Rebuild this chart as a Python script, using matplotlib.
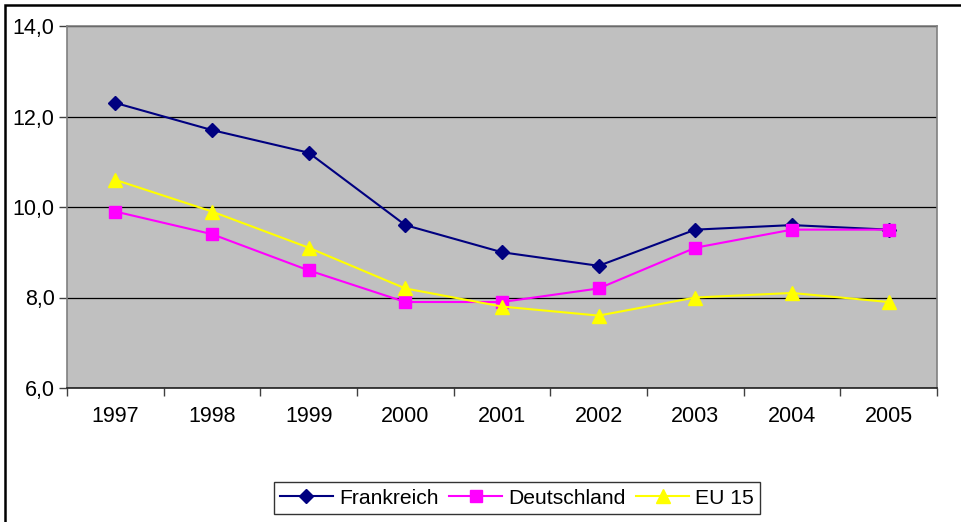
import matplotlib.pyplot as plt
import matplotlib.patches as mpatches
from matplotlib.ticker import FuncFormatter, FixedLocator

plt.rcParams['font.family'] = ['Liberation Sans', 'DejaVu Sans']

# Daten
jahre = ["1997", "1998", "1999", "2000", "2001", "2002", "2003", "2004", "2005"]
frankreich = [12.3, 11.7, 11.2, 9.6, 9.0, 8.7, 9.5, 9.6, 9.5]
deutschland = [9.9, 9.4, 8.6, 7.9, 7.9, 8.2, 9.1, 9.5, 9.5]
eu15 = [10.6, 9.9, 9.1, 8.2, 7.8, 7.6, 8.0, 8.1, 7.9]

fig = plt.figure(figsize=(9.61, 5.22), dpi=100)
ax = fig.add_axes([67/961, 1-388/522, (937-67)/961, (388-26)/522])
ax.set_facecolor('#C0C0C0')

x = list(range(len(jahre)))
ax.plot(x, frankreich, color='#000080', lw=1.5, marker='D', ms=7.5, label='Frankreich', zorder=3)
ax.plot(x, deutschland, color='#FF00FF', lw=1.5, marker='s', ms=8, label='Deutschland', zorder=4)
ax.plot(x, eu15, color='#FFFF00', lw=1.5, marker='^', ms=9.5, label='EU 15', zorder=5)

ax.set_ylim(6, 14)
ax.set_xlim(-0.5, len(jahre)-0.5)
ax.set_yticks([6, 8, 10, 12, 14])
ax.yaxis.set_major_formatter(FuncFormatter(lambda v, p: ('%.1f' % v).replace('.', ',')))
ax.grid(axis='y', color='black', lw=0.9, zorder=1)

# x: Ticks an den Kategoriegrenzen, Beschriftung in der Mitte
ax.xaxis.set_major_locator(FixedLocator([i - 0.5 for i in range(len(jahre)+1)]))
ax.xaxis.set_major_formatter(FuncFormatter(lambda v, p: ''))
ax.set_xticks(x, minor=True)
ax.set_xticklabels(jahre, minor=True)
ax.tick_params(axis='x', which='minor', length=0, labelsize=15.5, pad=13)
ax.tick_params(axis='x', which='major', length=6, width=1, color='#404040')
ax.tick_params(axis='y', length=6, width=1, color='#404040', labelsize=15.5, pad=3)

for s in ['top', 'right', 'left']:
    ax.spines[s].set_color('#808080')
    ax.spines[s].set_linewidth(1.2)
ax.spines['bottom'].set_color('#202020')
ax.spines['bottom'].set_linewidth(1.2)

leg = fig.legend(loc='center', bbox_to_anchor=(517/961, 1-498/522), ncol=3, fontsize=15.2,
                 frameon=True, fancybox=False, edgecolor='black', handlelength=2.5,
                 columnspacing=0.5, handletextpad=0.3, borderpad=0.3, borderaxespad=0)
leg.get_frame().set_linewidth(1.0)

# Rahmen um das Diagramm
fig.patches.append(mpatches.Rectangle((5/961, -0.05), 1.1, 1-5/522+0.05, transform=fig.transFigure,
                                      fill=False, edgecolor='black', lw=1.8))

fig.savefig('out.png', dpi=100)
